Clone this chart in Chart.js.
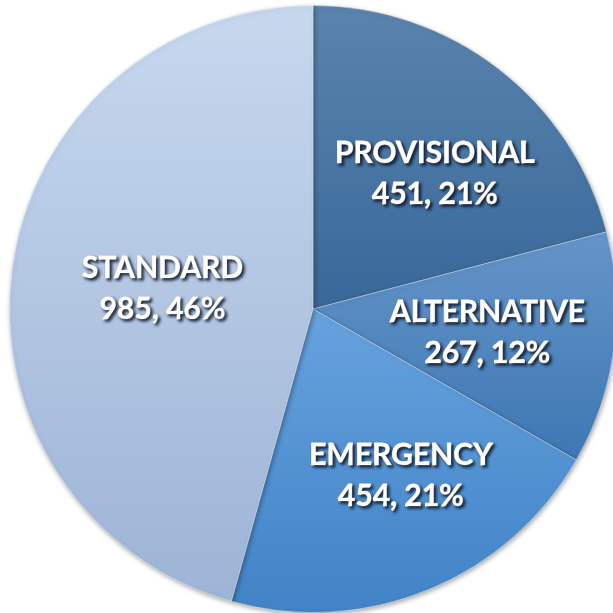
<!DOCTYPE html>
<html lang="en">
<head>
    <meta charset="UTF-8">
    <title>Pie</title>
    <script src="https://cdn.jsdelivr.net/npm/chart.js"></script>
    <style>
        html, body { margin: 0; padding: 0; background: #fff; overflow: hidden; }
        .box { position: relative; width: 626px; height: 618px; }
    </style>
</head>
<body>
    <div class="box">
        <canvas id="myChart" width="626" height="618"></canvas>
    </div>

<script>
const labels = ['PROVISIONAL', 'ALTERNATIVE', 'EMERGENCY', 'STANDARD'];
const values = [451, 267, 454, 985];
const percents = ['21%', '12%', '21%', '46%'];

// top / bottom colour of each slice gradient
const topColors = ['#5b84ad', '#6595c9', '#66a2de', '#c7d8ee'];
const bottomColors = ['#386899', '#3d77b3', '#4183c6', '#9db4d6'];

// label placement: fraction of radius, and small angle nudge (degrees)
const labelRadius = [0.6, 0.58, 0.62, 0.5];
const labelNudge = [4.4, 0, -5.6, 0];

// vertical gradient over the slice's own bounding box
function sliceGradient(context) {
    const chart = context.chart;
    const i = context.dataIndex;
    const area = chart.chartArea;
    if (!area) return topColors[i];
    const cy = (area.top + area.bottom) / 2;
    const r = Math.min(area.right - area.left, area.bottom - area.top) / 2;
    const total = values.reduce((s, v) => s + v, 0);
    let before = 0;
    for (let k = 0; k < i; k++) before += values[k];
    const a0 = -Math.PI / 2 + before / total * 2 * Math.PI;
    const a1 = a0 + values[i] / total * 2 * Math.PI;
    let ys = [cy, cy + r * Math.sin(a0), cy + r * Math.sin(a1)];
    [-Math.PI / 2, Math.PI / 2, 3 * Math.PI / 2].forEach(a => {
        if (a > a0 && a < a1) ys.push(cy + r * Math.sin(a));
    });
    const y0 = Math.min(...ys), y1 = Math.max(...ys);
    const g = chart.ctx.createLinearGradient(0, y0, 0, y1);
    g.addColorStop(0, topColors[i]);
    g.addColorStop(1, bottomColors[i]);
    return g;
}

const edgeShadow = {
    id: 'edgeShadow',
    beforeDatasetsDraw(chart) {
        const ctx = chart.ctx;
        ctx.save();
        ctx.shadowColor = 'rgba(0,0,0,0.35)';
        ctx.shadowBlur = 5;
        ctx.shadowOffsetX = 1;
        ctx.shadowOffsetY = 2;
    },
    afterDatasetsDraw(chart) {
        chart.ctx.restore();
    }
};

const sliceLabels = {
    id: 'sliceLabels',
    afterDatasetsDraw(chart) {
        const ctx = chart.ctx;
        const meta = chart.getDatasetMeta(0);
        ctx.save();
        ctx.font = 'bold 30px Lato, "Open Sans", sans-serif';
        ctx.textAlign = 'center';
        ctx.textBaseline = 'middle';
        ctx.fillStyle = '#ffffff';
        ctx.strokeStyle = '#ffffff';
        ctx.lineWidth = 0.9;
        ctx.lineJoin = 'round';
        ctx.shadowColor = 'rgba(10,20,40,0.9)';
        ctx.shadowBlur = 3;
        ctx.shadowOffsetX = 2;
        ctx.shadowOffsetY = 2;
        meta.data.forEach((arc, i) => {
            const mid = (arc.startAngle + arc.endAngle) / 2 + labelNudge[i] * Math.PI / 180;
            const r = arc.outerRadius * labelRadius[i];
            const x = arc.x + r * Math.cos(mid);
            const y = arc.y + r * Math.sin(mid);
            const line2 = values[i] + ', ' + percents[i];
            ctx.strokeText(labels[i], x, y - 20);
            ctx.fillText(labels[i], x, y - 20);
            ctx.strokeText(line2, x, y + 21);
            ctx.fillText(line2, x, y + 21);
        });
        ctx.restore();
    }
};

const data = {
    labels: labels,
    datasets: [{
        data: values,
        backgroundColor: sliceGradient,
        borderColor: 'rgba(255,255,255,0.35)',
        borderWidth: 1
    }]
};

const config = {
    type: 'pie',
    data: data,
    options: {
        responsive: false,
        animation: false,
        layout: { padding: { left: 9, right: 9, top: 5, bottom: 5 } },
        plugins: {
            legend: { display: false },
            tooltip: { enabled: false }
        }
    },
    plugins: [edgeShadow, sliceLabels]
};

const myChart = new Chart(document.getElementById('myChart'), config);
</script>
</body>
</html>
